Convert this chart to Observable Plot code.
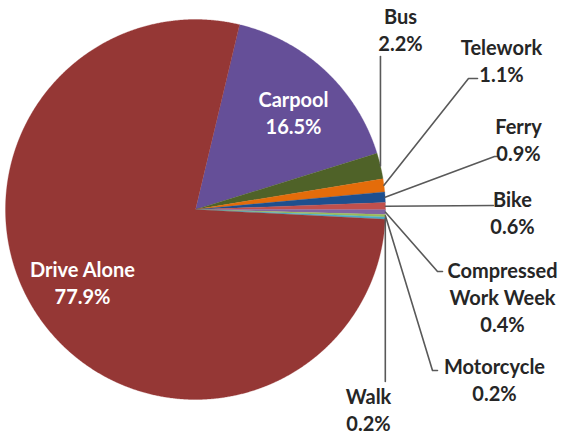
<!DOCTYPE html>
<html><head><meta charset="utf-8">
<script src="https://cdn.jsdelivr.net/npm/d3@7"></script>
<script src="https://cdn.jsdelivr.net/npm/@observablehq/plot@0.6"></script>
<style>
html,body{margin:0;padding:0;background:#fff;}
#chart svg{display:block;}
</style>
</head><body><div id="chart"></div>
<script>
// ---- data ----
const modes = ["Carpool","Bus","Telework","Ferry","Bike","Compressed Work Week","Motorcycle","Walk","Drive Alone"];
const shares = [16.5, 2.2, 1.1, 0.9, 0.6, 0.4, 0.2, 0.2, 77.9];
const labelNames = ["Carpool","Bus","Telework","Ferry","Bike","Compressed\nWork Week","Motorcycle","Walk","Drive Alone"];
const colors = ["#654f98","#4f6228","#e46c0a","#1d4f8e","#c0504d","#8064a2","#9bbb59","#4bacc6","#953735"];

// ---- layout (pixels in a 561x434 frame) ----
const W = 561, H = 434, CX = 195, CY = 209, R = 190;
const startDeg = 13.4;
const toX = px => (px - CX) / R;
const toY = py => (CY - py) / R;
// label centre and leader elbow/end points for outside labels
const layout = {
  "Carpool":              {tx: 293, ty: 111, inside: true},
  "Drive Alone":          {tx: 82,  ty: 281, inside: true},
  "Bus":                  {tx: 400, ty: 28,  path: [[380, 56]]},
  "Telework":             {tx: 501, ty: 59,  path: [[468, 78], [477, 78]]},
  "Ferry":                {tx: 518, ty: 138, path: [[494, 156], [497, 156]]},
  "Bike":                 {tx: 512, ty: 211, path: [[493, 205]]},
  "Compressed Work Week": {tx: 502, ty: 296, path: [[437, 271], [442, 271]]},
  "Motorcycle":           {tx: 494, ty: 378, path: [[432, 370], [437, 370]]},
  "Walk":                 {tx: 368, ty: 408, path: [[385, 381]]}
};

const table = modes.map((m, i) => ({name: m, share: shares[i], label: `${labelNames[i]}\n${shares[i].toFixed(1)}%`}));
const arcs = d3.pie().sort(null).value(d => d.share)
  .startAngle(startDeg * Math.PI / 180)
  .endAngle(startDeg * Math.PI / 180 + 2 * Math.PI)(table);

// slice polygons (angle clockwise from 12 o'clock)
const poly = [];
for (const a of arcs) {
  poly.push({name: a.data.name, x: 0, y: 0});
  const n = Math.max(2, Math.ceil((a.endAngle - a.startAngle) / 0.005));
  for (let k = 0; k <= n; k++) {
    const t = a.startAngle + (a.endAngle - a.startAngle) * k / n;
    poly.push({name: a.data.name, x: Math.sin(t), y: Math.cos(t)});
  }
}

// leader lines
const leaders = [];
for (const a of arcs) {
  const L = layout[a.data.name];
  if (L.inside) continue;
  const mid = (a.startAngle + a.endAngle) / 2;
  const sx = Math.sin(mid), sy = Math.cos(mid);
  const first = L.path[0];
  leaders.push({name: a.data.name, x: sx, y: sy});
  if (a.data.name === "Bus" || a.data.name === "Walk") {
    leaders.push({name: a.data.name, x: sx, y: toY(first[1])});
  } else {
    for (const p of L.path) leaders.push({name: a.data.name, x: toX(p[0]), y: toY(p[1])});
  }
}

const place = d => ({...d, x: toX(layout[d.name].tx), y: toY(layout[d.name].ty)});
const labelsIn = table.filter(d => layout[d.name].inside).map(place);
const labelsOut = table.filter(d => !layout[d.name].inside).map(place);

const font = "Lato, 'Open Sans', sans-serif";
const chart = Plot.plot({
  width: W, height: H, margin: 0,
  x: {domain: [toX(0), toX(W)], range: [0, W], axis: null},
  y: {domain: [toY(H), toY(0)], range: [H, 0], axis: null},
  color: {domain: modes, range: colors},
  style: {background: "#fff", fontFamily: font},
  marks: [
    Plot.line(poly, {x: "x", y: "y", z: "name", fill: "name", stroke: "name", strokeWidth: 0.3, curve: "linear-closed"}),
    Plot.line(leaders, {x: "x", y: "y", z: "name", stroke: "#595959", strokeWidth: 1.6}),
    Plot.text(labelsIn, {x: "x", y: "y", text: "label", fill: "white", fontSize: 20, fontWeight: "bold", lineHeight: 1.35, textAnchor: "middle"}),
    Plot.text(labelsOut, {x: "x", y: "y", text: "label", fill: "#262626", fontSize: 20, fontWeight: "bold", lineHeight: 1.35, textAnchor: "middle"})
  ]
});
document.getElementById("chart").appendChild(chart);
</script>
</body></html>
